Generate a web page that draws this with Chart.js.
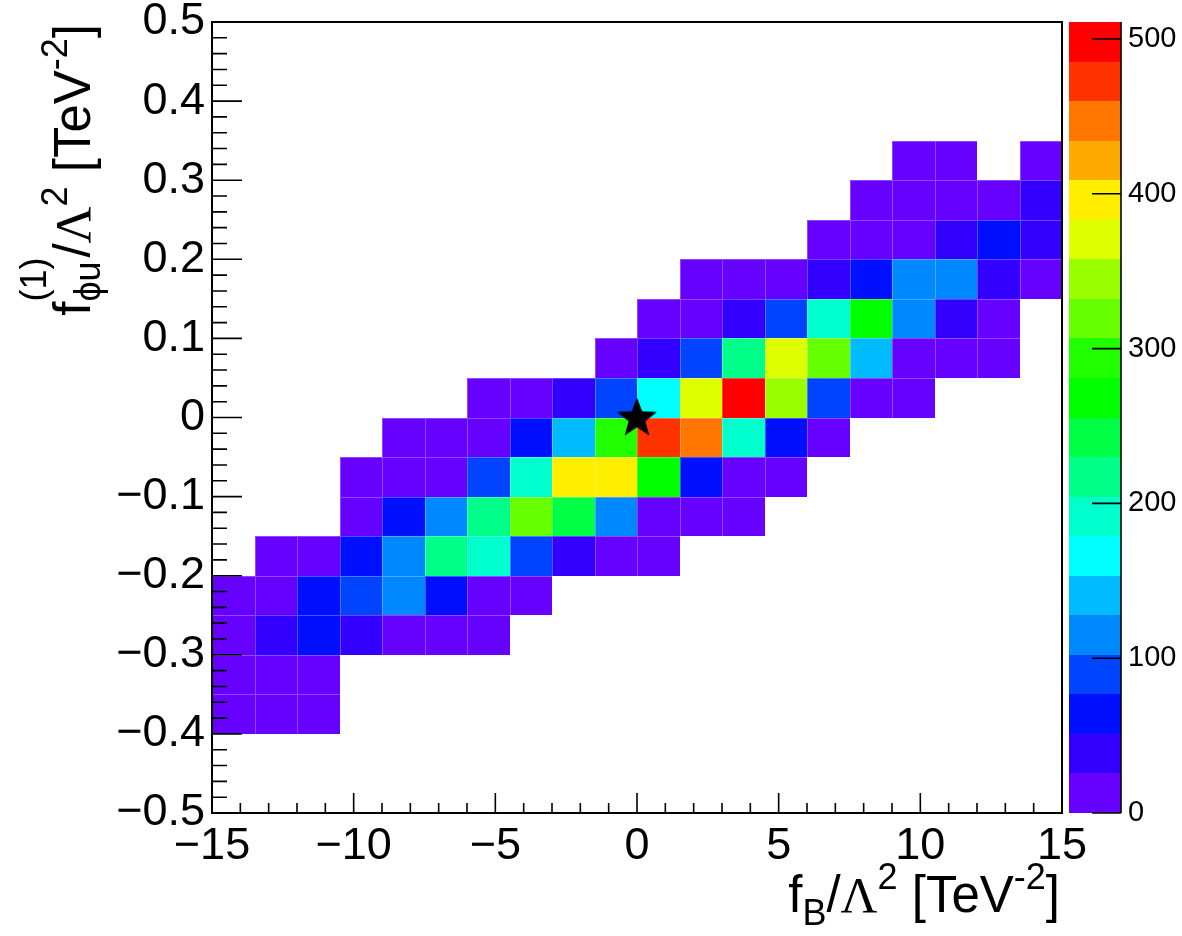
<!DOCTYPE html>
<html>
<head>
<meta charset="utf-8">
<script src="https://cdn.jsdelivr.net/npm/chart.js@4.4.0/dist/chart.umd.min.js"></script>
<style>
  html, body { margin: 0; padding: 0; background: #fff; }
  canvas { display: block; }
</style>
</head>
<body>
<canvas id="c" width="1182" height="936"></canvas>
<script>
// bin centres of the 2D histogram (x: f_B, y: f_phiu)
const xBinCenters = [-14.25, -12.75, -11.25, -9.75, -8.25, -6.75, -5.25, -3.75, -2.25, -0.75,
                     0.75, 2.25, 3.75, 5.25, 6.75, 8.25, 9.75, 11.25, 12.75, 14.25];
const xBinWidth = 1.5;
// rows listed from top (0.475) to bottom (-0.475)
const yBinCenters = [0.475, 0.425, 0.375, 0.325, 0.275, 0.225, 0.175, 0.125, 0.075, 0.025,
                     -0.025, -0.075, -0.125, -0.175, -0.225, -0.275, -0.325, -0.375, -0.425, -0.475];
const yBinWidth = 0.05;

// bin contents, one row per yBinCenters entry (0 = empty bin, not drawn)
const counts = [
  [0,0,0,0,0,0,0,0,0,0,0,0,0,0,0,0,0,0,0,0],
  [0,0,0,0,0,0,0,0,0,0,0,0,0,0,0,0,0,0,0,0],
  [0,0,0,0,0,0,0,0,0,0,0,0,0,0,0,0,0,0,0,0],
  [0,0,0,0,0,0,0,0,0,0,0,0,0,0,0,0,8,5,0,3],
  [0,0,0,0,0,0,0,0,0,0,0,0,0,0,0,6,12,9,14,31],
  [0,0,0,0,0,0,0,0,0,0,0,0,0,0,11,17,20,38,62,34],
  [0,0,0,0,0,0,0,0,0,0,0,7,15,22,44,58,112,108,41,13],
  [0,0,0,0,0,0,0,0,0,0,9,19,36,88,190,262,106,33,16,0],
  [0,0,0,0,0,0,0,0,0,14,47,84,216,370,318,144,21,18,10,0],
  [0,0,0,0,0,0,8,17,43,90,168,366,510,345,81,20,12,0,0,0],
  [0,0,0,0,6,15,23,64,142,287,478,449,186,59,19,0,0,0,0,0],
  [0,0,0,10,21,24,86,192,398,402,266,61,18,12,0,0,0,0,0,0],
  [0,0,0,13,57,118,220,322,241,112,22,16,9,0,0,0,0,0,0,0],
  [0,11,18,63,109,214,196,83,37,20,8,0,0,0,0,0,0,0,0,0],
  [9,24,55,79,116,60,19,14,0,0,0,0,0,0,0,0,0,0,0,0],
  [16,40,66,45,23,17,12,0,0,0,0,0,0,0,0,0,0,0,0,0],
  [12,21,15,0,0,0,0,0,0,0,0,0,0,0,0,0,0,0,0,0],
  [7,18,10,0,0,0,0,0,0,0,0,0,0,0,0,0,0,0,0,0],
  [0,0,0,0,0,0,0,0,0,0,0,0,0,0,0,0,0,0,0,0],
  [0,0,0,0,0,0,0,0,0,0,0,0,0,0,0,0,0,0,0,0]
];

const smPoint = [{ x: 0, y: 0 }];   // the star

const xTicks = [-15, -10, -5, 0, 5, 10, 15];
const yTicks = [-0.5, -0.4, -0.3, -0.2, -0.1, 0, 0.1, 0.2, 0.3, 0.4, 0.5];
const zTicks = [0, 100, 200, 300, 400, 500];
const zMax = 511;

// 20 contour colours, low -> high
const palette = ['#6600ff', '#3300ff', '#0010ff', '#0044ff', '#0088ff', '#00bbff', '#00ffff',
                 '#00ffcc', '#00ff88', '#00ff44', '#00ff00', '#22ff00', '#66ff00', '#99ff00',
                 '#ddff00', '#ffee00', '#ffaa00', '#ff7700', '#ff3300', '#ff0000'];

const SANS = '"Liberation Sans", Arial, sans-serif';
const SERIF = '"Liberation Serif", "Times New Roman", serif';

let cells = [];
counts.forEach((row, r) => {
  row.forEach((v, i) => {
    if (v > 0) cells.push({ x: xBinCenters[i], y: yBinCenters[r], v: v });
  });
});

function minusFmt(v) {
  return v < 0 ? '\u2212' + Math.abs(v) : String(v);
}

function starImage(r) {
  const c = document.createElement('canvas');
  c.width = c.height = Math.ceil(2 * r + 2);
  const g = c.getContext('2d');
  g.translate(c.width / 2, c.height / 2 + 1);
  g.beginPath();
  for (let k = 0; k < 10; k++) {
    const rad = k % 2 === 0 ? r : r * 0.42;
    const a = -Math.PI / 2 + k * Math.PI / 5;
    g.lineTo(rad * Math.cos(a), rad * Math.sin(a));
  }
  g.closePath();
  g.fillStyle = '#000';
  g.fill();
  return c;
}

const hist2d = {
  id: 'hist2d',
  beforeDatasetsDraw(chart) {
    const { ctx, scales: { x, y } } = chart;
    ctx.save();
    chart.data.datasets[0].data.forEach(c => {
      const x0 = Math.round(x.getPixelForValue(c.x - xBinWidth / 2));
      const x1 = Math.round(x.getPixelForValue(c.x + xBinWidth / 2));
      const y0 = Math.round(y.getPixelForValue(c.y + yBinWidth / 2));
      const y1 = Math.round(y.getPixelForValue(c.y - yBinWidth / 2));
      const lvl = Math.min(palette.length - 1, Math.floor(c.v / zMax * palette.length));
      ctx.fillStyle = palette[lvl];
      ctx.fillRect(x0, y0, x1 - x0, y1 - y0);
      ctx.strokeStyle = 'rgba(255,255,255,0.28)';
      ctx.lineWidth = 1;
      ctx.strokeRect(x0 + 0.5, y0 + 0.5, x1 - x0, y1 - y0);
    });
    ctx.restore();
  }
};

const frameTicks = {
  id: 'frameTicks',
  afterDatasetsDraw(chart) {
    const { ctx, chartArea: a, scales: { x, y } } = chart;
    ctx.save();
    ctx.strokeStyle = '#000';
    ctx.lineWidth = 1.6;
    ctx.beginPath();
    for (let k = 0; k <= 30; k++) {
      const v = -15 + k;
      const px = x.getPixelForValue(v);
      const len = v % 5 === 0 ? 20 : 10;
      ctx.moveTo(px, a.bottom);
      ctx.lineTo(px, a.bottom - len);
    }
    for (let k = 0; k <= 50; k++) {
      const py = y.getPixelForValue(-0.5 + k * 0.02);
      const len = k % 5 === 0 ? 30 : 15;
      ctx.moveTo(a.left, py);
      ctx.lineTo(a.left + len, py);
    }
    ctx.stroke();
    ctx.lineWidth = 2;
    ctx.strokeRect(a.left, a.top, a.right - a.left, a.bottom - a.top);
    ctx.restore();
  }
};

const colorBar = {
  id: 'colorBar',
  afterDraw(chart) {
    const { ctx, chartArea: a, scales: { z } } = chart;
    const bx0 = a.right + 7, bx1 = a.right + 59;
    ctx.save();
    palette.forEach((col, L) => {
      const yt = Math.round(z.getPixelForValue((L + 1) * zMax / palette.length));
      const yb = Math.round(z.getPixelForValue(L * zMax / palette.length));
      ctx.fillStyle = col;
      ctx.fillRect(bx0, yt, bx1 - bx0, yb - yt);
    });
    ctx.strokeStyle = '#000';
    ctx.lineWidth = 1.6;
    ctx.beginPath();
    ctx.moveTo(bx1, z.getPixelForValue(zMax));
    ctx.lineTo(bx1, z.getPixelForValue(0));
    z.ticks.forEach(t => {
      const py = z.getPixelForValue(t.value);
      ctx.moveTo(bx1 - 29, py);
      ctx.lineTo(bx1, py);
    });
    ctx.stroke();
    ctx.restore();
  }
};

// rich text: parts with optional size / dy / serif, or a stacked sup+sub
function drawRich(ctx, parts, size) {
  const small = Math.round(size * 0.7);
  const fontOf = p => (p.small ? small : size) + 'px ' + (p.serif ? SERIF : SANS);
  const widthOf = p => {
    if (p.stack) return Math.max(...p.stack.map(widthOf));
    ctx.font = fontOf(p);
    return ctx.measureText(p.t).width;
  };
  const total = parts.reduce((s, p) => s + widthOf(p), 0);
  let cx = -total;
  parts.forEach(p => {
    const list = p.stack ? p.stack : [p];
    list.forEach(q => {
      ctx.font = fontOf(q);
      ctx.fillText(q.t, cx, q.dy || 0);
    });
    cx += widthOf(p);
  });
}

const TITLE_SIZE = 51;
const xTitle = [
  { t: 'f' }, { t: 'B', small: true, dy: 13 }, { t: '/' }, { t: '\u039B', serif: true },
  { t: '2', small: true, dy: -23 }, { t: ' [TeV' }, { t: '-2', small: true, dy: -23 }, { t: ']' }
];
const yTitle = [
  { t: 'f' }, { stack: [{ t: '(1)', small: true, dy: -44 }, { t: '\u03D5u', small: true, dy: 10 }] },
  { t: '/' }, { t: '\u039B', serif: true },
  { t: '2', small: true, dy: -23 }, { t: ' [TeV' }, { t: '-2', small: true, dy: -23 }, { t: ']' }
];

const titles = {
  id: 'titles',
  afterDraw(chart) {
    const { ctx, chartArea: a } = chart;
    ctx.save();
    ctx.fillStyle = '#000';
    ctx.textBaseline = 'alphabetic';
    ctx.textAlign = 'left';
    ctx.save();
    ctx.translate(a.right - 2, 912);
    drawRich(ctx, xTitle, TITLE_SIZE);
    ctx.restore();
    ctx.save();
    ctx.translate(90, a.top + 2);
    ctx.rotate(-Math.PI / 2);
    drawRich(ctx, yTitle, TITLE_SIZE);
    ctx.restore();
    ctx.restore();
  }
};

const tickFont = { family: SANS, size: 45 };

new Chart(document.getElementById('c'), {
  type: 'scatter',
  data: {
    datasets: [
      { label: 'bins', data: cells, pointRadius: 0, pointHoverRadius: 0 },
      { label: 'SM', data: smPoint, pointStyle: starImage(21), pointRadius: 21 }
    ]
  },
  options: {
    responsive: false,
    animation: false,
    events: [],
    layout: { padding: { top: 18, left: 0, right: 0, bottom: 0 } },
    plugins: { legend: { display: false }, tooltip: { enabled: false } },
    scales: {
      x: {
        type: 'linear', min: -15, max: 15,
        grid: { display: false, drawTicks: false }, border: { display: false },
        afterBuildTicks: s => { s.ticks = xTicks.map(v => ({ value: v })); },
        afterFit: s => { s.height = 123; s.paddingLeft = 0; s.paddingRight = 0; },
        ticks: { font: tickFont, color: '#000', padding: 7, maxRotation: 0, autoSkip: false,
                 callback: v => minusFmt(v) }
      },
      y: {
        type: 'linear', min: -0.5, max: 0.5,
        grid: { display: false, drawTicks: false }, border: { display: false },
        afterBuildTicks: s => { s.ticks = yTicks.map(v => ({ value: v })); },
        afterFit: s => { s.width = 212; s.paddingTop = 0; s.paddingBottom = 0; },
        ticks: { font: tickFont, color: '#000', padding: 7, autoSkip: false,
                 callback: v => minusFmt(v) }
      },
      z: {
        type: 'linear', position: 'right', min: 0, max: zMax,
        grid: { display: false, drawTicks: false }, border: { display: false },
        afterBuildTicks: s => { s.ticks = zTicks.map(v => ({ value: v })); },
        afterFit: s => { s.width = 120; s.paddingTop = 0; s.paddingBottom = 0; },
        ticks: { font: { family: SANS, size: 29 }, color: '#000', padding: 66, autoSkip: false }
      }
    }
  },
  plugins: [hist2d, frameTicks, colorBar, titles]
});
</script>
</body>
</html>
